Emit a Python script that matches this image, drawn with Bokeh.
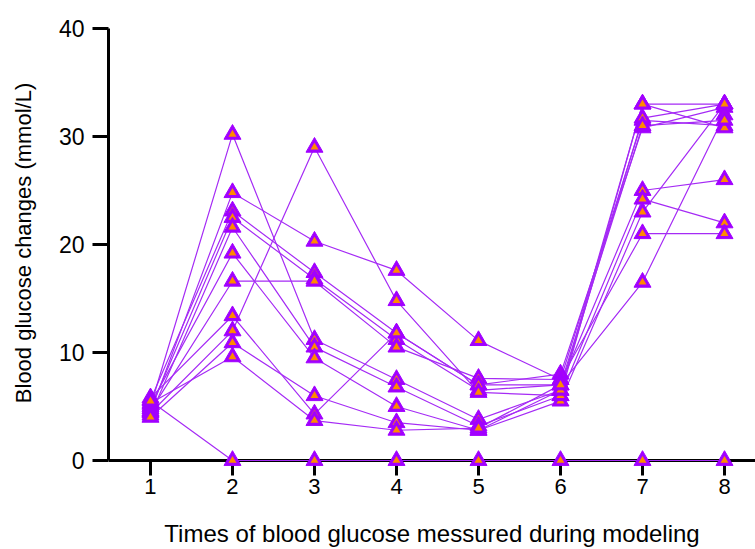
from bokeh.plotting import figure
from bokeh.models import Range1d, FixedTicker, LinearAxis
from bokeh.embed import file_html
from bokeh.resources import INLINE

times = [1, 2, 3, 4, 5, 6, 7, 8]
x_tick_labels = ["1", "2", "3", "4", "5", "6", "7", "8"]
y_ticks = [0, 10, 20, 30, 40]

mouse_a = [5.0, 30.2, 11.2, 7.5, 3.8, 6.5, 33.0, 33.0]
mouse_b = [4.5, 24.8, 20.3, 17.6, 11.1, 7.5, 31.5, 31.0]
mouse_c = [5.6, 23.1, 17.4, 11.8, 7.0, 8.0, 30.8, 32.7]
mouse_d = [4.8, 22.5, 16.8, 11.2, 6.5, 7.0, 25.0, 26.0]
mouse_e = [4.2, 21.6, 10.5, 6.8, 3.2, 6.0, 24.2, 22.0]
mouse_f = [5.2, 19.2, 9.5, 5.0, 2.8, 5.5, 23.0, 33.0]
mouse_g = [4.6, 16.6, 16.6, 10.5, 7.6, 7.5, 21.0, 21.0]
mouse_h = [5.8, 13.4, 4.3, 11.8, 7.0, 7.0, 16.5, 32.0]
mouse_i = [4.4, 12.0, 29.0, 14.8, 6.3, 6.0, 33.0, 30.8]
mouse_j = [4.0, 10.9, 6.0, 3.5, 2.8, 6.5, 31.7, 33.0]
mouse_k = [5.3, 9.6, 3.7, 2.8, 3.0, 7.0, 31.0, 31.5]
mouse_z = [5.5, 0.0, 0.0, 0.0, 0.0, 0.0, 0.0, 0.0]

series = [mouse_a, mouse_b, mouse_c, mouse_d, mouse_e, mouse_f,
          mouse_g, mouse_h, mouse_i, mouse_j, mouse_k, mouse_z]

PURPLE = "#A100FF"
LINE_PURPLE = "#A52BF5"
ORANGE = "#FF8A00"
FONT = "Liberation Sans"

p = figure(width=755, height=549, output_backend="svg", toolbar_location=None,
           x_range=Range1d(0.488, 8.378), y_range=Range1d(-1.389, 41.667),
           min_border_left=108, min_border_right=0, min_border_top=10,
           min_border_bottom=69, x_axis_location=None)
p.outline_line_color = None
p.grid.visible = False
p.background_fill_color = "white"
p.border_fill_color = "white"

for s in series:
    p.line(times, s, line_color=LINE_PURPLE, line_width=1.2)
for s in series:
    p.scatter(times, s, marker="triangle", size=17, fill_color=PURPLE,
              line_color=PURPLE, line_width=1)
    p.scatter(times, s, marker="triangle", size=8, fill_color=ORANGE,
              line_color=None)

# x axis line and ticks pinned at y = 0
xa = LinearAxis(fixed_location=0, ticker=FixedTicker(ticks=times))
xa.level = "underlay"
xa.major_label_text_font_size = "0px"
xa.major_label_text_color = None
p.add_layout(xa, "below")

# x tick labels and title, below the frame
xl = LinearAxis(ticker=FixedTicker(ticks=times))
xl.major_label_overrides = {t: l for t, l in zip(times, x_tick_labels)}
xl.axis_line_color = None
xl.major_tick_line_color = None
xl.major_tick_in = 0
xl.major_tick_out = 0
xl.minor_tick_line_color = None
xl.major_label_standoff = 3
xl.major_label_text_font = FONT
xl.major_label_text_font_size = "22px"
xl.major_label_text_color = "black"
xl.axis_label = "Times of blood glucose messured during modeling"
xl.axis_label_text_font = FONT
xl.axis_label_text_font_style = "normal"
xl.axis_label_text_color = "black"
xl.axis_label_text_font_size = "24px"
xl.axis_label_standoff = 23
p.add_layout(xl, "below")

ya = p.yaxis[0]
ya.ticker = FixedTicker(ticks=y_ticks)
ya.bounds = (0, 40)

for ax in (xa, ya):
    ax.axis_line_width = 3
    ax.axis_line_color = "black"
    ax.major_tick_line_width = 3
    ax.major_tick_line_color = "black"
    ax.major_tick_in = 0
    ax.major_tick_out = 16
    ax.minor_tick_line_color = None

ya.major_label_text_font = FONT
ya.major_label_text_font_size = "23px"
ya.major_label_text_color = "black"
ya.major_label_standoff = 8
ya.axis_label = "Blood glucose changes (mmol/L)"
ya.axis_label_text_font = FONT
ya.axis_label_text_font_style = "normal"
ya.axis_label_text_color = "black"
ya.axis_label_text_font_size = "22px"
ya.axis_label_standoff = 20

open("out.html", "w").write(file_html(p, INLINE))
